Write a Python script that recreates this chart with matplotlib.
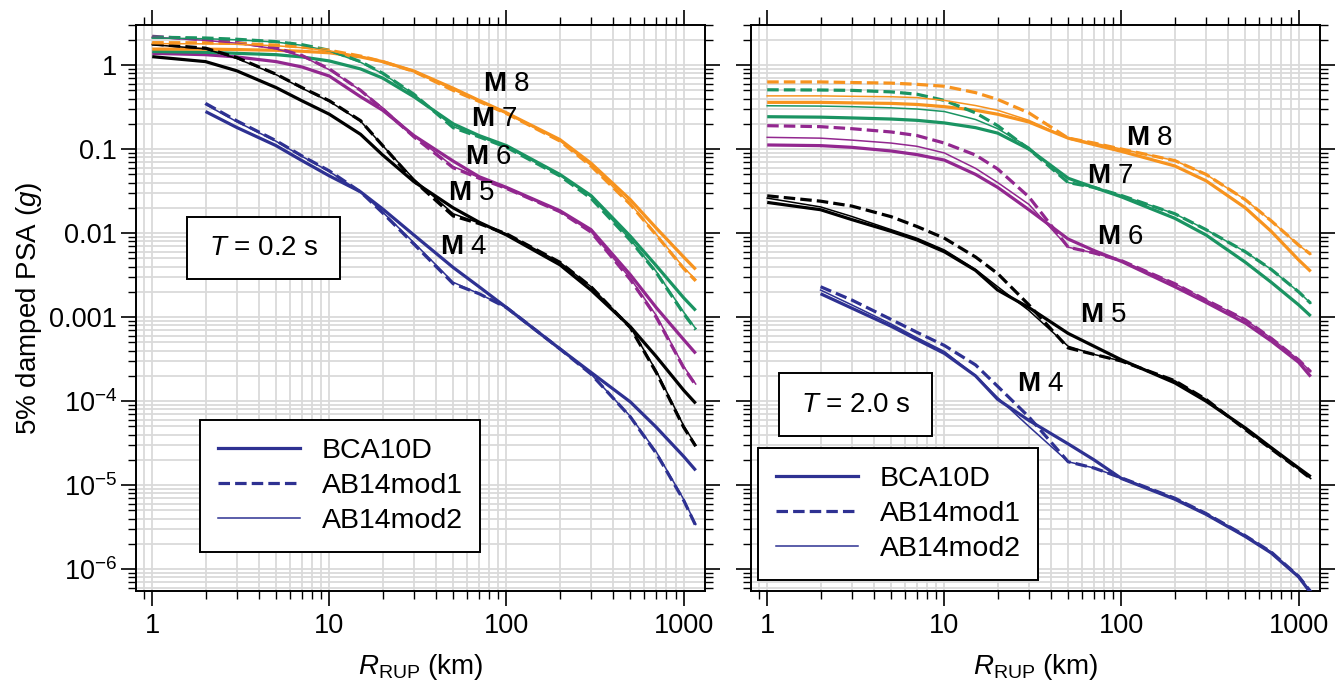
import numpy as np
import matplotlib
matplotlib.use("Agg")
import matplotlib.pyplot as plt
from matplotlib.ticker import FixedLocator, LogLocator, NullFormatter
from matplotlib.patches import Rectangle
from matplotlib.lines import Line2D

plt.rcParams['font.family'] = ['Liberation Sans', 'DejaVu Sans']
plt.rcParams['mathtext.fontset'] = 'custom'
plt.rcParams['mathtext.rm'] = 'Liberation Sans'
plt.rcParams['mathtext.it'] = 'Liberation Sans:italic'
plt.rcParams['mathtext.bf'] = 'Liberation Sans:bold'
plt.rcParams['mathtext.sf'] = 'Liberation Sans'

nan = np.nan
# ---------------- data ----------------
R_KM = [1, 2, 3, 5, 7, 10, 15, 20, 30, 50, 70, 100, 200, 300, 500, 700, 1000, 1170]
MAGS = [4, 5, 6, 7, 8]
MAG_COLORS = {4: '#2e3192', 5: '#000000', 6: '#92278f', 7: '#1a9462', 8: '#f7931e'}

# T = 0.2 s
T02_BCA10D = {
    4: [nan, 0.28, 0.181, 0.11, 0.073, 0.048, 0.031, 0.0194, 0.0095, 0.0039, 0.0023, 0.0013, 0.00042, 0.00022, 9.8e-5, 4.9e-5, 2.2e-5, 1.5e-5],
    5: [1.26, 1.1, 0.855, 0.54, 0.376, 0.26, 0.15, 0.085, 0.041, 0.020, 0.0135, 0.0095, 0.0042, 0.0021, 0.00077, 0.00034, 0.000135, 9.4e-5],
    6: [1.38, 1.33, 1.25, 1.1, 0.95, 0.74, 0.42, 0.29, 0.145, 0.072, 0.047, 0.035, 0.0185, 0.011, 0.0032, 0.0013, 0.00054, 0.00037],
    7: [1.45, 1.42, 1.38, 1.33, 1.25, 1.12, 0.9, 0.7, 0.42, 0.2, 0.145, 0.11, 0.05, 0.028, 0.0092, 0.0041, 0.0017, 0.0012],
    8: [1.55, 1.55, 1.53, 1.5, 1.46, 1.4, 1.25, 1.1, 0.85, 0.53, 0.38, 0.27, 0.13, 0.068, 0.025, 0.0115, 0.0052, 0.0037],
}
T02_AB14MOD1 = {
    4: [nan, 0.35, 0.217, 0.126, 0.083, 0.055, 0.031, 0.0174, 0.0074, 0.0025, 0.0019, 0.0013, 0.00042, 0.00021, 6.5e-5, 2.4e-5, 6.6e-6, 3.3e-6],
    5: [1.78, 1.59, 1.23, 0.78, 0.54, 0.376, 0.218, 0.11, 0.042, 0.016, 0.013, 0.0098, 0.0045, 0.0023, 0.00075, 0.00022, 4.9e-5, 2.9e-5],
    6: [2.2, 2.0, 1.86, 1.6, 1.3, 0.9, 0.5, 0.3, 0.14, 0.06, 0.045, 0.034, 0.018, 0.0103, 0.0028, 0.001, 0.00025, 0.000155],
    7: [2.15, 2.1, 2.03, 1.9, 1.75, 1.5, 1.1, 0.8, 0.45, 0.18, 0.14, 0.105, 0.048, 0.026, 0.0082, 0.0034, 0.0011, 0.00071],
    8: [1.85, 1.84, 1.81, 1.73, 1.64, 1.5, 1.28, 1.1, 0.84, 0.5, 0.37, 0.265, 0.125, 0.063, 0.022, 0.0095, 0.0038, 0.0027],
}
T02_AB14MOD2 = {
    4: [nan, 0.34, 0.212, 0.124, 0.082, 0.054, 0.031, 0.0178, 0.0077, 0.0026, 0.0019, 0.0013, 0.00042, 0.00021, 6.6e-5, 2.5e-5, 6.8e-6, 3.4e-6],
    5: [1.75, 1.56, 1.2, 0.77, 0.53, 0.37, 0.215, 0.11, 0.044, 0.017, 0.0132, 0.0098, 0.0045, 0.0023, 0.00076, 0.00023, 5.1e-5, 3.0e-5],
    6: [2.15, 1.97, 1.82, 1.56, 1.28, 0.88, 0.5, 0.31, 0.145, 0.062, 0.046, 0.034, 0.018, 0.0104, 0.0029, 0.00105, 0.00026, 0.00016],
    7: [2.1, 2.06, 2.0, 1.88, 1.72, 1.47, 1.08, 0.79, 0.45, 0.185, 0.142, 0.106, 0.049, 0.027, 0.0084, 0.0035, 0.00115, 0.00073],
    8: [1.8, 1.79, 1.77, 1.7, 1.61, 1.48, 1.27, 1.09, 0.84, 0.51, 0.372, 0.266, 0.126, 0.064, 0.0225, 0.0097, 0.0039, 0.0028],
}

# T = 2.0 s
T20_BCA10D = {
    4: [nan, 0.0019, 0.00128, 0.00078, 0.00054, 0.00037, 0.0002, 0.000105, 5.9e-5, 3.1e-5, 2.0e-5, 1.2e-5, 6.8e-6, 4.5e-6, 2.45e-6, 1.56e-6, 8.1e-7, 5.2e-7],
    5: [0.0232, 0.019, 0.0145, 0.0105, 0.0083, 0.006, 0.0036, 0.0021, 0.0013, 0.00064, 0.00045, 0.00031, 0.000165, 0.0001, 4.8e-5, 2.8e-5, 1.6e-5, 1.26e-5],
    6: [0.112, 0.11, 0.105, 0.095, 0.086, 0.074, 0.05, 0.035, 0.019, 0.0085, 0.0062, 0.0046, 0.0023, 0.0015, 0.00085, 0.00052, 0.00029, 0.000196],
    7: [0.243, 0.24, 0.235, 0.228, 0.22, 0.205, 0.18, 0.155, 0.1, 0.045, 0.035, 0.027, 0.015, 0.0095, 0.0045, 0.0026, 0.0014, 0.00103],
    8: [0.36, 0.36, 0.355, 0.35, 0.34, 0.32, 0.29, 0.26, 0.21, 0.135, 0.113, 0.094, 0.063, 0.042, 0.02, 0.0105, 0.0048, 0.0035],
}
T20_AB14MOD1 = {
    4: [nan, 0.0023, 0.0016, 0.00094, 0.00066, 0.00046, 0.00027, 0.00015, 6.5e-5, 1.9e-5, 1.6e-5, 1.22e-5, 7.0e-6, 4.6e-6, 2.5e-6, 1.6e-6, 8.2e-7, 5.4e-7],
    5: [0.0278, 0.024, 0.021, 0.0157, 0.012, 0.0087, 0.0052, 0.0033, 0.0014, 0.00043, 0.00036, 0.0003, 0.000175, 0.000105, 4.6e-5, 2.7e-5, 1.55e-5, 1.2e-5],
    6: [0.19, 0.185, 0.175, 0.16, 0.145, 0.118, 0.085, 0.058, 0.027, 0.0068, 0.0058, 0.0047, 0.0025, 0.0016, 0.00093, 0.00056, 0.00031, 0.000224],
    7: [0.508, 0.505, 0.5, 0.48, 0.45, 0.38, 0.27, 0.19, 0.1, 0.04, 0.035, 0.028, 0.017, 0.011, 0.006, 0.0037, 0.002, 0.00146],
    8: [0.63, 0.63, 0.62, 0.61, 0.59, 0.56, 0.47, 0.39, 0.27, 0.135, 0.118, 0.1, 0.073, 0.05, 0.025, 0.014, 0.0072, 0.0056],
}
T20_AB14MOD2 = {
    4: [nan, 0.0021, 0.0014, 0.00083, 0.00057, 0.00039, 0.0002, 0.00011, 5.0e-5, 1.9e-5, 1.6e-5, 1.22e-5, 7.0e-6, 4.6e-6, 2.5e-6, 1.6e-6, 8.2e-7, 5.4e-7],
    5: [0.0261, 0.0205, 0.0158, 0.011, 0.0087, 0.0063, 0.0037, 0.0023, 0.0012, 0.00045, 0.00036, 0.0003, 0.000175, 0.000105, 4.6e-5, 2.7e-5, 1.55e-5, 1.2e-5],
    6: [0.138, 0.135, 0.128, 0.118, 0.108, 0.09, 0.059, 0.04, 0.022, 0.0068, 0.0058, 0.0047, 0.0025, 0.0016, 0.00093, 0.00056, 0.00031, 0.000224],
    7: [0.328, 0.325, 0.32, 0.31, 0.3, 0.28, 0.225, 0.175, 0.105, 0.04, 0.035, 0.028, 0.017, 0.011, 0.006, 0.0037, 0.002, 0.00146],
    8: [0.43, 0.43, 0.425, 0.42, 0.41, 0.38, 0.33, 0.29, 0.22, 0.135, 0.118, 0.1, 0.073, 0.05, 0.025, 0.014, 0.0072, 0.0056],
}

X_TICKS = [1, 10, 100, 1000]
X_TICK_LABELS = ['1', '10', '100', '1000']
Y_TICKS = [1e-6, 1e-5, 1e-4, 1e-3, 1e-2, 1e-1, 1]
Y_TICK_LABELS = ['$10^{-6}$', '$10^{-5}$', '$10^{-4}$', '0.001', '0.01', '0.1', '1']
MODEL_NAMES = ['BCA10D', 'AB14mod1', 'AB14mod2']
PERIOD_LABELS = ['$T$ = 0.2 s', '$T$ = 2.0 s']

# magnitude label positions (data coords) per panel
MAG_LABEL_POS_02 = {8: (100, 0.594), 7: (86, 0.228), 6: (79.5, 0.080), 5: (63.8, 0.030), 4: (57.5, 0.0068)}
MAG_LABEL_POS_20 = {8: (144, 0.135), 7: (86.7, 0.0477), 6: (98.7, 0.00896), 5: (79.1, 0.00106), 4: (34.9, 1.59e-4)}

# ---------------- figure ----------------
fig = plt.figure(figsize=(13.43, 6.89), dpi=100)
W, H = 1343, 689
def px_axes(x0, x1, y0, y1):
    return [x0 / W, 1 - y1 / H, (x1 - x0) / W, (y1 - y0) / H]

ax1 = fig.add_axes(px_axes(136, 705, 25, 591))
ax2 = fig.add_axes(px_axes(751, 1320, 25, 591))

THICK = 2.3
THIN = 1.1
DASH = (3.6, 1.6)
GRID_C = '#dadada'
FS_TICK = 19.5
FS_LABEL = 20
FS_TEXT = 20
FS_LEG = 20.5

def style_axes(ax, show_ylabels):
    ax.set_xscale('log')
    ax.set_yscale('log')
    ax.set_xlim(0.81, 1320)
    ax.set_ylim(5.5e-7, 3.0)
    ax.xaxis.set_major_locator(FixedLocator(X_TICKS))
    ax.set_xticklabels(X_TICK_LABELS)
    ax.xaxis.set_minor_locator(LogLocator(base=10, subs=np.arange(2, 10), numticks=30))
    ax.xaxis.set_minor_formatter(NullFormatter())
    ax.yaxis.set_major_locator(FixedLocator(Y_TICKS))
    ax.set_yticklabels(Y_TICK_LABELS)
    ax.yaxis.set_minor_locator(LogLocator(base=10, subs=np.arange(2, 10), numticks=30))
    ax.yaxis.set_minor_formatter(NullFormatter())
    ax.grid(True, which='both', color=GRID_C, lw=1.3)
    ax.set_axisbelow(True)
    ax.tick_params(which='major', direction='out', length=10.5, width=1.2,
                   top=True, right=True, labelsize=FS_TICK, pad=5)
    ax.tick_params(which='minor', direction='out', length=6, width=1.0,
                   top=True, right=True)
    ax.tick_params(axis='y', which='major', pad=3)
    if not show_ylabels:
        ax.tick_params(axis='y', labelleft=False)
    for s in ax.spines.values():
        s.set_linewidth(1.4)
    ax.set_xlabel(r'$R_{\mathrm{RUP}}$ (km)', fontsize=FS_LABEL, labelpad=10)

def draw_panel(ax, bca, mod1, mod2, label_pos):
    for m in MAGS:
        c = MAG_COLORS[m]
        ax.plot(R_KM, bca[m], color=c, lw=THICK, solid_capstyle='butt', zorder=3)
        ax.plot(R_KM, mod1[m], color=c, lw=THICK, ls=(0, DASH), zorder=4)
        ax.plot(R_KM, mod2[m], color=c, lw=THIN, zorder=5)
        x, y = label_pos[m]
        ax.text(x, y, r'$\mathbf{M}$ %d' % m, fontsize=FS_TEXT, ha='center', va='center', zorder=6)

style_axes(ax1, True)
style_axes(ax2, False)
draw_panel(ax1, T02_BCA10D, T02_AB14MOD1, T02_AB14MOD2, MAG_LABEL_POS_02)
draw_panel(ax2, T20_BCA10D, T20_AB14MOD1, T20_AB14MOD2, MAG_LABEL_POS_20)

ax1.set_ylabel('5% damped PSA ($g$)', fontsize=FS_LABEL, labelpad=4)

# period boxes (axes fraction positions)
def period_box(ax, cx, cy, w, h, text):
    ax.add_patch(Rectangle((cx - w / 2, cy - h / 2), w, h, transform=ax.transAxes,
                           facecolor='white', edgecolor='black', lw=1.4, zorder=7))
    ax.text(cx, cy, text, transform=ax.transAxes, ha='center', va='center',
            fontsize=FS_TEXT, zorder=8)

AXW, AXH = 569.0, 566.0
period_box(ax1, (263.5 - 136) / AXW, (591 - 248) / AXH, 153 / AXW, 62 / AXH, PERIOD_LABELS[0])
period_box(ax2, (855.5 - 751) / AXW, (591 - 404.5) / AXH, 153 / AXW, 63 / AXH, PERIOD_LABELS[1])

# legends
handles = [Line2D([], [], color=MAG_COLORS[4], lw=THICK),
           Line2D([], [], color=MAG_COLORS[4], lw=THICK, ls=(0, DASH)),
           Line2D([], [], color=MAG_COLORS[4], lw=THIN)]
for ax, anchor in [(ax1, ((200 - 136) / AXW, (591 - 420) / AXH)),
                   (ax2, ((758 - 751) / AXW, (591 - 448) / AXH))]:
    leg = ax.legend(handles, MODEL_NAMES, loc='upper left', bbox_to_anchor=anchor,
                    borderaxespad=0, fontsize=FS_LEG, frameon=True, fancybox=False,
                    edgecolor='black', framealpha=1, handlelength=2.9,
                    handletextpad=0.75, borderpad=0.62, labelspacing=0.33)
    leg.get_frame().set_linewidth(1.4)
    leg.set_zorder(9)

fig.savefig('out.png', dpi=100)
